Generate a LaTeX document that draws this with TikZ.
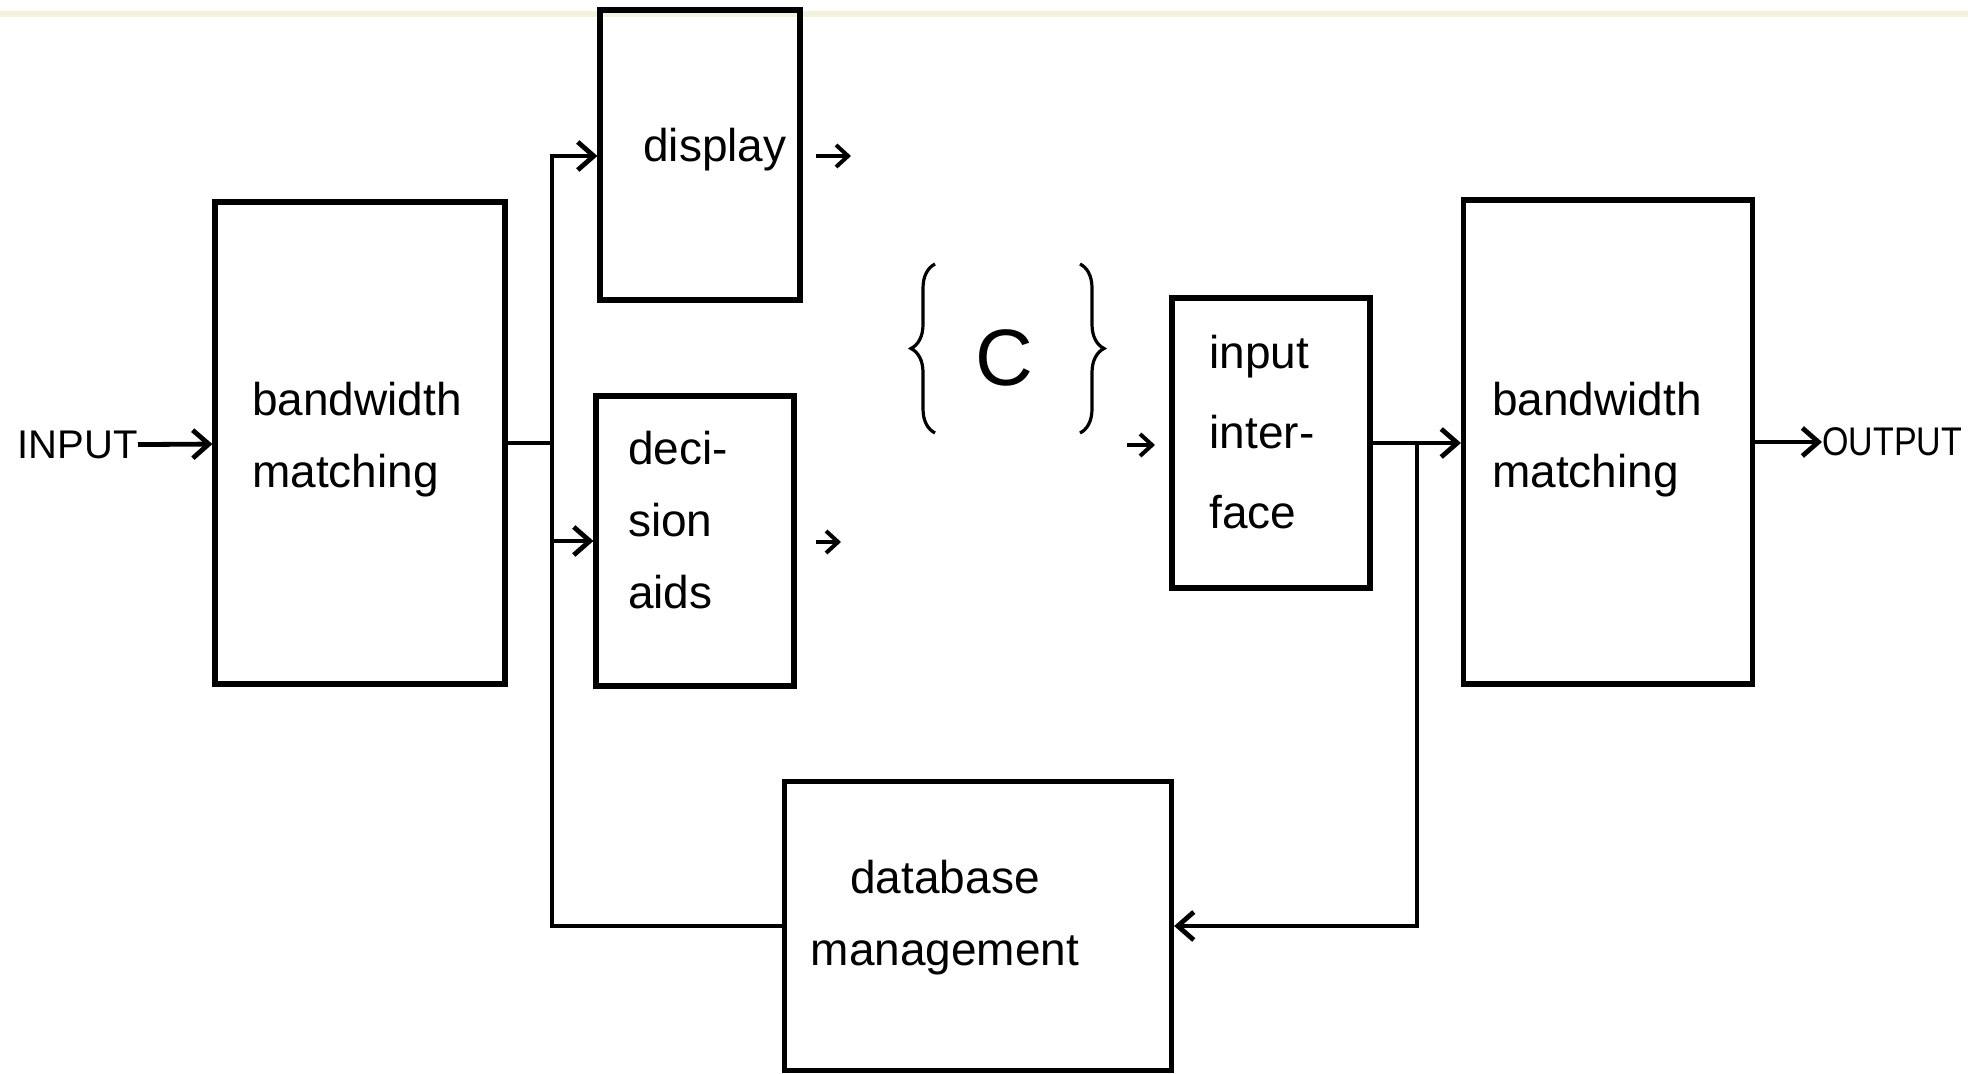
\documentclass[tikz,border=0pt]{standalone}
\usepackage{fontspec}
\setmainfont{Liberation Sans}
\usetikzlibrary{arrows.meta,decorations.pathreplacing}
\begin{document}
\begin{tikzpicture}[x=0.5pt,y=-0.5pt,
  box/.style={draw, line width=2.6pt, inner sep=0pt},
  txt/.style={inner sep=0pt, font=\fontsize{23}{36}\selectfont},
  arr/.style={line width=2.4pt, -{Straight Barb[length=8pt,width=14pt]}},
  sarr/.style={line width=2pt, -{Straight Barb[length=6pt,width=11pt]}},
  wire/.style={line width=2.4pt},
  brc/.style={line width=1.6pt, decorate, decoration={brace, amplitude=12pt}},
  lbl/.style={inner sep=0pt, font=\fontsize{20}{24}\selectfont}]
\useasboundingbox (0,0) rectangle (1968,1074);
\draw[color={rgb,255:red,242;green,242;blue,222}, line width=3pt] (0,14) -- (1968,14);

% boxes
\node[box, minimum width=145pt, minimum height=241pt] (bwL) at (360,443) {};
\node[box, minimum width=100pt, minimum height=145pt] (disp) at (700,155) {};
\node[box, minimum width=99pt, minimum height=145pt] (dec) at (695,541) {};
\node[box, minimum width=99pt, minimum height=145pt] (iface) at (1271,443) {};
\node[box, minimum width=144.5pt, minimum height=242pt] (bwR) at (1608,442) {};
\node[box, minimum width=193.5pt, minimum height=144.5pt] (db) at (978,926) {};

% box texts
\node[txt, align=left] (bwLt) at (357,440) {bandwidth\\matching};
\node[txt] (dispt) at (715,150) {display};
\node[txt, align=left] (dect) at (678,520) {deci-\\sion\\aids};
\node[txt, align=left, font=\fontsize{23}{40}\selectfont] (ifacet) at (1262,432) {input\\inter-\\face};
\node[txt, align=left] (bwRt) at (1597,440) {bandwidth\\matching};
\node[txt, align=center] (dbt) at (945,918) {database\\management};

% outer labels
\node[lbl, anchor=east] (in) at (138,445) {INPUT};
\node[lbl, anchor=west] (out) at (1822,442) {\scalebox{0.85}[1]{OUTPUT}};

% brace and C
\coordinate (lbB) at (935,433); \coordinate (lbT) at (935,264);
\coordinate (rbT) at (1080,264); \coordinate (rbB) at (1080,433);
\draw[brc] (lbB) -- (lbT);
\draw[brc] (rbT) -- (rbB);
\node[inner sep=0pt, font=\fontsize{40}{40}\selectfont] (cee) at (1004,358) {C};

% connectors
\coordinate (busTop) at (552,156);
\draw[arr] (in) -- (bwL);
\draw[wire] (bwL.east) -- (bwL.east -| busTop);
\draw[arr] (db.west) -| (busTop) -- (busTop -| disp.west);
\draw[arr] (busTop |- dec.west) -- (dec.west);

\coordinate (dispA) at (816,156); \coordinate (dispB) at (851,156);
\draw[sarr] (dispA) -- (dispB);
\coordinate (decA) at (816,542); \coordinate (decB) at (841,542);
\draw[sarr] (decA) -- (decB);
\coordinate (ifA) at (1127,445); \coordinate (ifB) at (1155,445);
\draw[sarr] (ifA) -- (ifB);

\draw[arr] (iface.east) -- (iface.east -| bwR.west);
\coordinate (tap) at (1417,443);
\draw[arr] (tap) |- (db.east);
\draw[arr] (bwR.east) -- (out.west);
\end{tikzpicture}
\end{document}
